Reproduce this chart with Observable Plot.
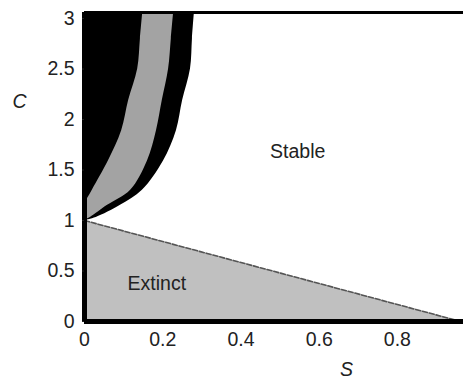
<!DOCTYPE html>
<html>
<head>
<meta charset="utf-8">
<script src="https://cdn.jsdelivr.net/npm/d3@7"></script>
<script src="https://cdn.jsdelivr.net/npm/@observablehq/plot@0.6"></script>
<style>
  html, body { margin: 0; padding: 0; background: #fff; }
  svg { display: block; }
</style>
</head>
<body>
<div id="chart"></div>
<script>
// Boundary curves of the unstable (black) region and the gray band
const C_vals  = [1.00, 1.03, 1.15, 1.30, 1.59, 1.89, 2.19, 2.50, 2.80, 3.06];
const innerS  = [0.000, 0.000, 0.000, 0.020, 0.061, 0.095, 0.113, 0.136, 0.143, 0.149];
const midS    = [0.000, 0.015, 0.059, 0.118, 0.161, 0.184, 0.199, 0.215, 0.222, 0.228];
const outerS  = [0.000, 0.030, 0.092, 0.148, 0.202, 0.235, 0.251, 0.271, 0.276, 0.281];

// Extinction boundary line
const extS = [0, 0.962];
const extC = [1, 0];

const xTicks = [0, 0.2, 0.4, 0.6, 0.8];
const yTicks = [0, 0.5, 1, 1.5, 2, 2.5, 3];

const labels = [
  {S: 0.545, C: 1.68, text: "Stable"},
  {S: 0.185, C: 0.37, text: "Extinct"}
];

const band = C_vals.map((c, i) => ({C: c, inner: innerS[i], mid: midS[i], outer: outerS[i]}));
const ext = extS.map((s, i) => ({S: s, C: extC[i]}));

const FS = 19.5;
const chart = Plot.plot({
  width: 463,
  height: 378,
  marginLeft: 84,
  marginRight: 0,
  marginTop: 12,
  marginBottom: 57,
  style: {fontFamily: "Liberation Sans, Arial, sans-serif", fontSize: FS + "px", color: "#222", background: "#fff"},
  x: {domain: [0, 0.969], ticks: xTicks, tickFormat: d => String(d), label: null},
  y: {domain: [0, 3.06], ticks: yTicks, tickFormat: d => String(d), label: null},
  marks: [
    Plot.areaY(ext, {x: "S", y1: 0, y2: "C", fill: "#c0c0c0"}),
    Plot.line(ext, {x: "S", y: "C", stroke: "#555", strokeWidth: 1.6, strokeDasharray: "5,2"}),
    Plot.areaX(band, {y: "C", x1: 0, x2: "outer", fill: "#000", curve: "catmull-rom"}),
    Plot.areaX(band, {y: "C", x1: "inner", x2: "mid", fill: "#a3a3a3", curve: "catmull-rom"}),
    Plot.ruleY([3.06], {stroke: "#000", strokeWidth: 3}),
    Plot.ruleY([0], {stroke: "#000", strokeWidth: 5}),
    Plot.ruleX([0], {stroke: "#000", strokeWidth: 5}),
    Plot.axisX({ticks: xTicks, tickSize: 0, tickPadding: 11, tickFormat: d => String(d), fontSize: FS, fill: "#222"}),
    Plot.axisY({ticks: yTicks, tickSize: 2, tickPadding: 8, tickFormat: d => String(d), fontSize: FS, fill: "#222"}),
    Plot.text(labels, {x: "S", y: "C", text: "text", fontSize: FS, fill: "#222"}),
    Plot.text(["S"], {frameAnchor: "bottom", x: 0.67, dy: 54, fontSize: FS, fontStyle: "italic", fill: "#222"}),
    Plot.text(["C"], {frameAnchor: "left", y: 2.18, dx: -72, fontSize: FS, fontStyle: "italic", fill: "#222"})
  ]
});
document.getElementById("chart").appendChild(chart);
</script>
</body>
</html>
